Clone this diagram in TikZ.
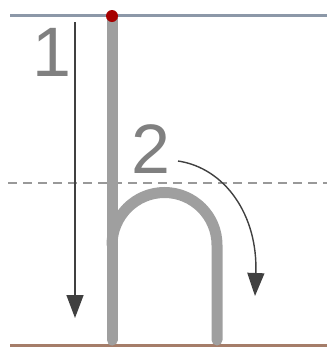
\documentclass[tikz,border=0pt]{standalone}
\usepackage{fontspec}
\setmainfont{Liberation Sans}
\usetikzlibrary{arrows.meta,positioning,calc}
\definecolor{topline}{RGB}{140,152,168}
\definecolor{baseline}{RGB}{165,125,105}

\begin{document}
\begin{tikzpicture}[x=1pt, y=-1pt,
  guide/.style={line width=3pt, draw=topline},
  midguide/.style={line width=2.2pt, draw=gray!80, dash pattern=on 9pt off 6pt},
  baseguide/.style={line width=3pt, draw=baseline},
  letterstroke/.style={line width=11pt, draw=gray!75, line cap=round},
  strokearrow/.style={draw=black!75, line width=1.4pt,
                      -{Triangle[length=23pt, width=17pt]}},
  stepnum/.style={font=\fontsize{70}{70}\selectfont, text=black!50, inner sep=0pt},
]
  % Frame
  \useasboundingbox (0,0) rectangle (330,349);

  % Column x-coordinates
  \def\xstem{112}
  \def\xleg{217}

  % Writing lines
  \coordinate (topL) at (10,15);   \coordinate (topR) at (327,15);
  \coordinate (midL) at (8,183);   \coordinate (midR) at (327,183);
  \coordinate (botL) at (10,345);  \coordinate (botR) at (327,345);
  \draw[guide] (topL) -- (topR);
  \draw[midguide] (midL) -- (midR);
  \draw[baseguide] (botL) -- (botR);

  % Letter h
  \coordinate (stemtop) at (\xstem,18);
  \coordinate (stembot) at (\xstem,340);
  \coordinate (archL) at (\xstem,245);
  \coordinate (legbot) at (\xleg,340);
  \draw[letterstroke] (stemtop) -- (stembot);
  \draw[letterstroke] (archL) arc[start angle=180, end angle=360, radius=52.5] -- (legbot);

  % Start point
  \node[circle, fill=red!65!black, minimum size=12pt, inner sep=0pt] (start) at (\xstem,16) {};

  % Step 1
  \node[stepnum] (one) at (52,52) {1};
  \coordinate (a1s) at (75,22);
  \coordinate (a1e) at (75,318);
  \draw[strokearrow] (a1s) -- (a1e);

  % Step 2
  \node[stepnum] (two) at (151,149) {2};
  \coordinate (a2s) at (178,161);
  \coordinate (a2e) at (255,296);
  \draw[strokearrow] (a2s) .. controls (225,168) and (258,215) .. (a2e);

\end{tikzpicture}
\end{document}
